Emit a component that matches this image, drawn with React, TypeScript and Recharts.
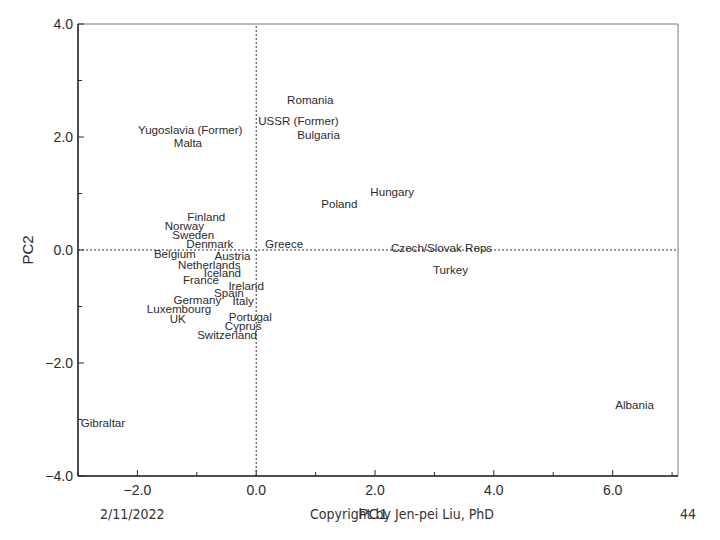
import React from "react";
import {
  ReferenceLine,
  Scatter,
  ScatterChart,
  XAxis,
  YAxis,
  ZAxis,
} from "recharts";

// country labels as they sit on the PC1/PC2 plane
const countries = [
  "Romania", "USSR (Former)", "Bulgaria", "Yugoslavia (Former)", "Malta",
  "Hungary", "Poland", "Finland", "Norway", "Sweden",
  "Denmark", "Greece", "Czech/Slovak Reps", "Belgium", "Austria",
  "Netherlands", "Iceland", "France", "Ireland", "Turkey",
  "Spain", "Germany", "Italy", "Luxembourg", "UK",
  "Portugal", "Cyprus", "Switzerland", "Gibraltar", "Albania",
];
const pc1 = [
  0.91, 0.71, 1.05, -1.11, -1.15,
  2.29, 1.4, -0.84, -1.21, -1.06,
  -0.78, 0.47, 3.12, -1.37, -0.4,
  -0.79, -0.57, -0.93, -0.17, 3.27,
  -0.46, -0.99, -0.22, -1.3, -1.32,
  -0.1, -0.22, -0.49, -2.58, 6.37,
];
const pc2 = [
  2.67, 2.3, 2.04, 2.14, 1.91,
  1.04, 0.83, 0.6, 0.44, 0.28,
  0.11, 0.11, 0.05, -0.07, -0.09,
  -0.25, -0.39, -0.53, -0.62, -0.35,
  -0.76, -0.88, -0.9, -1.04, -1.22,
  -1.17, -1.33, -1.5, -3.06, -2.74,
];

const xTicks = [-3, -2, -1, 0, 1, 2, 3, 4, 5, 6, 7];
const yTicks = [-4, -3, -2, -1, 0, 1, 2, 3, 4];

const points = countries.map((name, i) => ({ name, x: pc1[i], y: pc2[i] }));

const INK = "#2b2b2b";
const FONT = "'Liberation Sans', Arial, sans-serif";

function CountryLabel(props: any) {
  const { cx, cy, payload } = props;
  return (
    <text
      x={cx}
      y={cy}
      textAnchor="middle"
      dominantBaseline="central"
      fontSize={11.6}
      fontFamily={FONT}
      fill={INK}
    >
      {payload.name}
    </text>
  );
}

function XTick(props: any) {
  const { x, y, payload } = props;
  const major = payload.value % 2 === 0;
  return (
    <g>
      <line x1={x} y1={y} x2={x} y2={y - (major ? 6 : 4)} stroke={INK} />
      {major && (
        <text
          x={x}
          y={y + 19}
          textAnchor="middle"
          fontSize={14}
          fontFamily={FONT}
          fill={INK}
        >
          {payload.value < 0
            ? "\u2212" + Math.abs(payload.value).toFixed(1)
            : payload.value.toFixed(1)}
        </text>
      )}
    </g>
  );
}

function YTick(props: any) {
  const { x, y, payload } = props;
  const major = payload.value % 2 === 0;
  const v = payload.value;
  return (
    <g>
      <line x1={x} y1={y} x2={x + (major ? 6 : 4)} y2={y} stroke={INK} />
      {major && (
        <text
          x={x - 5}
          y={y + 5}
          textAnchor="end"
          fontSize={14}
          fontFamily={FONT}
          fill={INK}
        >
          {v < 0 ? "\u2212" + Math.abs(v).toFixed(1) : v.toFixed(1)}
        </text>
      )}
    </g>
  );
}

function YTitle(props: any) {
  const { viewBox } = props;
  const cx = viewBox.x + viewBox.width - 51;
  const cy = viewBox.y + viewBox.height / 2;
  return (
    <text
      x={cx}
      y={cy}
      transform={`rotate(-90 ${cx} ${cy})`}
      textAnchor="middle"
      dominantBaseline="central"
      fontSize={15}
      fontFamily={FONT}
      fill={INK}
    >
      PC2
    </text>
  );
}

function XTitle(props: any) {
  const { viewBox } = props;
  const cx = viewBox.x + viewBox.width / 2 - 5;
  const cy = viewBox.y + 37;
  return (
    <text
      x={cx}
      y={cy}
      textAnchor="middle"
      dominantBaseline="central"
      fontSize={15}
      fontFamily={FONT}
      fill={INK}
    >
      PC1
    </text>
  );
}

const footStyle: React.CSSProperties = {
  position: "absolute",
  top: 506,
  fontSize: 14,
  fontFamily: "'Liberation Sans Narrow', 'DejaVu Sans Condensed', sans-serif",
  color: "#333",
  whiteSpace: "nowrap",
};

export default function App() {
  return (
    <div
      style={{
        position: "absolute",
        left: 0,
        top: 0,
        width: 720,
        height: 540,
        background: "#fff",
      }}
    >
      <ScatterChart
        width={720}
        height={540}
        margin={{ top: 24, right: 42, bottom: 24, left: 28 }}
      >
        <XAxis
          type="number"
          dataKey="x"
          domain={[-3, 7.1]}
          ticks={xTicks}
          height={40}
          tickSize={0}
          tickMargin={0}
          tickLine={false}
          tick={<XTick />}
          axisLine={{ stroke: "#111", strokeWidth: 1.5 }}
          allowDataOverflow
          label={<XTitle />}
        />
        <YAxis
          type="number"
          dataKey="y"
          domain={[-4, 4]}
          ticks={yTicks}
          width={50}
          tickSize={0}
          tickMargin={0}
          tickLine={false}
          tick={<YTick />}
          axisLine={{ stroke: "#111", strokeWidth: 1.5 }}
          allowDataOverflow
          label={<YTitle />}
        />
        <ZAxis range={[10, 10]} />
        <ReferenceLine y={4} stroke="#777" />
        <ReferenceLine x={7.1} stroke="#777" />
        <ReferenceLine x={0} stroke="#333" strokeDasharray="2 2" />
        <ReferenceLine y={0} stroke="#333" strokeDasharray="2 2" />
        <Scatter
          data={points}
          shape={<CountryLabel />}
          isAnimationActive={false}
        />
      </ScatterChart>
      <div style={{ ...footStyle, left: 100 }}>2/11/2022</div>
      <div style={{ ...footStyle, left: 310 }}>Copyright by Jen-pei Liu, PhD</div>
      <div style={{ ...footStyle, left: 680 }}>44</div>
    </div>
  );
}
